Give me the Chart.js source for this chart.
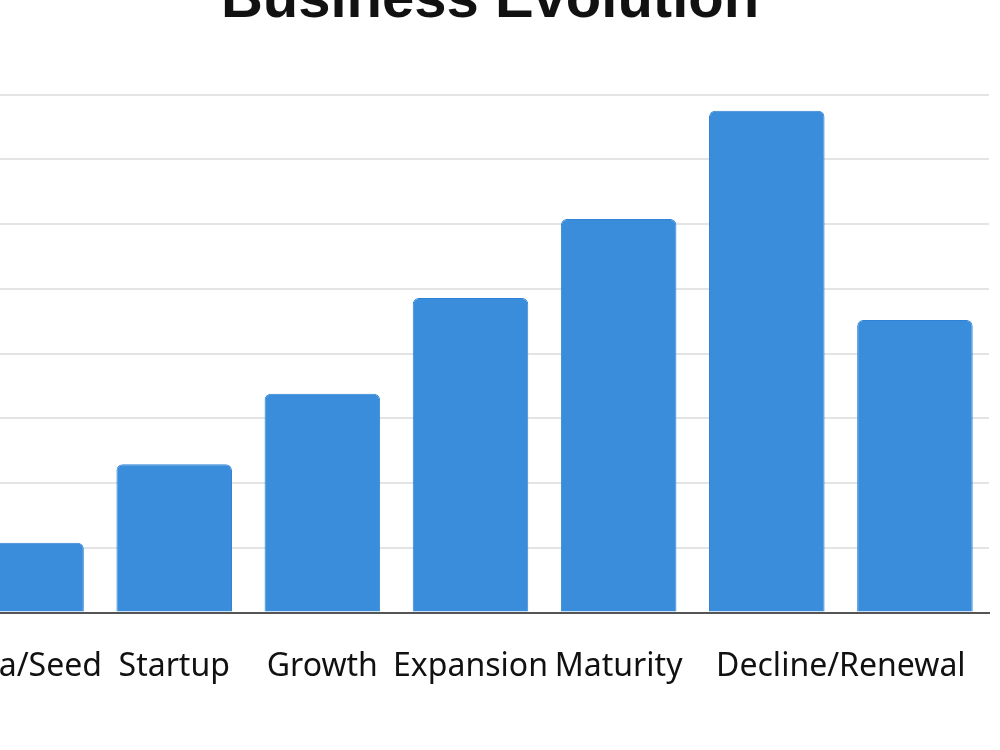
<!DOCTYPE html>
<html lang="en">
<head>
    <meta charset="UTF-8">
    <title>Business Evolution</title>
    <script src="https://cdn.jsdelivr.net/npm/chart.js"></script>
    <style>
        html, body { margin: 0; padding: 0; background: #fff; overflow: hidden; }
        body { width: 1000px; height: 750px; position: relative; overflow: hidden; }
        .chart-box { position: absolute; left: -100px; top: -50px; width: 1128px; height: 800px; }
    </style>
</head>
<body>

<div class="chart-box">
    <canvas id="stagesChart"></canvas>
</div>

<script>
// data
const stages = ['Idea/Seed', 'Startup', 'Growth', 'Expansion', 'Maturity', 'Decline', 'Renewal'];
const values = [1.08, 2.29, 3.38, 4.86, 6.08, 7.75, 4.52];
// the text under the axis, and where along the stages each one sits
const axisLabels = ['Idea/Seed', 'Startup', 'Growth', 'Expansion', 'Maturity', 'Decline/Renewal'];
const axisLabelAt = [0, 1, 2, 3, 4, 5.5];

const titleFont = '"Liberation Sans", Arial, Helvetica, sans-serif';
const labelFont = '"Noto Sans", "Liberation Sans", Arial, sans-serif';

const ctx = document.getElementById('stagesChart').getContext('2d');

new Chart(ctx, {
    type: 'bar',
    data: {
        labels: stages,
        datasets: [{
            data: values,
            backgroundColor: '#3a8dda',
            borderColor: '#2f83d6',
            borderWidth: 1,
            borderRadius: 6,
            categoryPercentage: 0.78,
            barPercentage: 1
        }]
    },
    options: {
        responsive: true,
        maintainAspectRatio: false,
        animation: false,
        layout: { padding: { left: 52, right: 0, top: 0, bottom: 45 } },
        plugins: {
            legend: { display: false },
            tooltip: { enabled: false },
            title: {
                display: true,
                text: 'Business Evolution',
                color: '#111',
                font: { family: titleFont, size: 58, weight: 'bold' },
                padding: { top: 16, bottom: 59 }
            }
        },
        scales: {
            x: {
                ticks: { display: false },
                grid: { display: false },
                border: { display: true, color: '#555', width: 2 }
            },
            // labels sit on their own axis so the last one can span two bars
            x2: {
                type: 'linear',
                position: 'bottom',
                bounds: 'data',
                offset: false,
                min: -0.5,
                max: 6.5,
                afterBuildTicks: axis => {
                    axis.ticks = axisLabelAt.map(v => ({ value: v }));
                },
                ticks: {
                    autoSkip: false,
                    maxRotation: 0,
                    padding: 19,
                    color: '#111',
                    font: { family: labelFont, size: 32 },
                    callback: (v, i) => axisLabels[i]
                },
                grid: { display: false, offset: false },
                border: { display: false }
            },
            y: {
                min: 0,
                max: 8,
                ticks: { display: false, stepSize: 1 },
                grid: { color: '#e4e4e4', lineWidth: 2, drawTicks: false },
                border: { display: false }
            },
            // empty strip on the right, past the last bar
            yRight: {
                position: 'right',
                ticks: { display: false },
                grid: { display: false },
                border: { display: false },
                afterFit: axis => { axis.width = 39; }
            }
        }
    }
});
</script>

</body>
</html>
